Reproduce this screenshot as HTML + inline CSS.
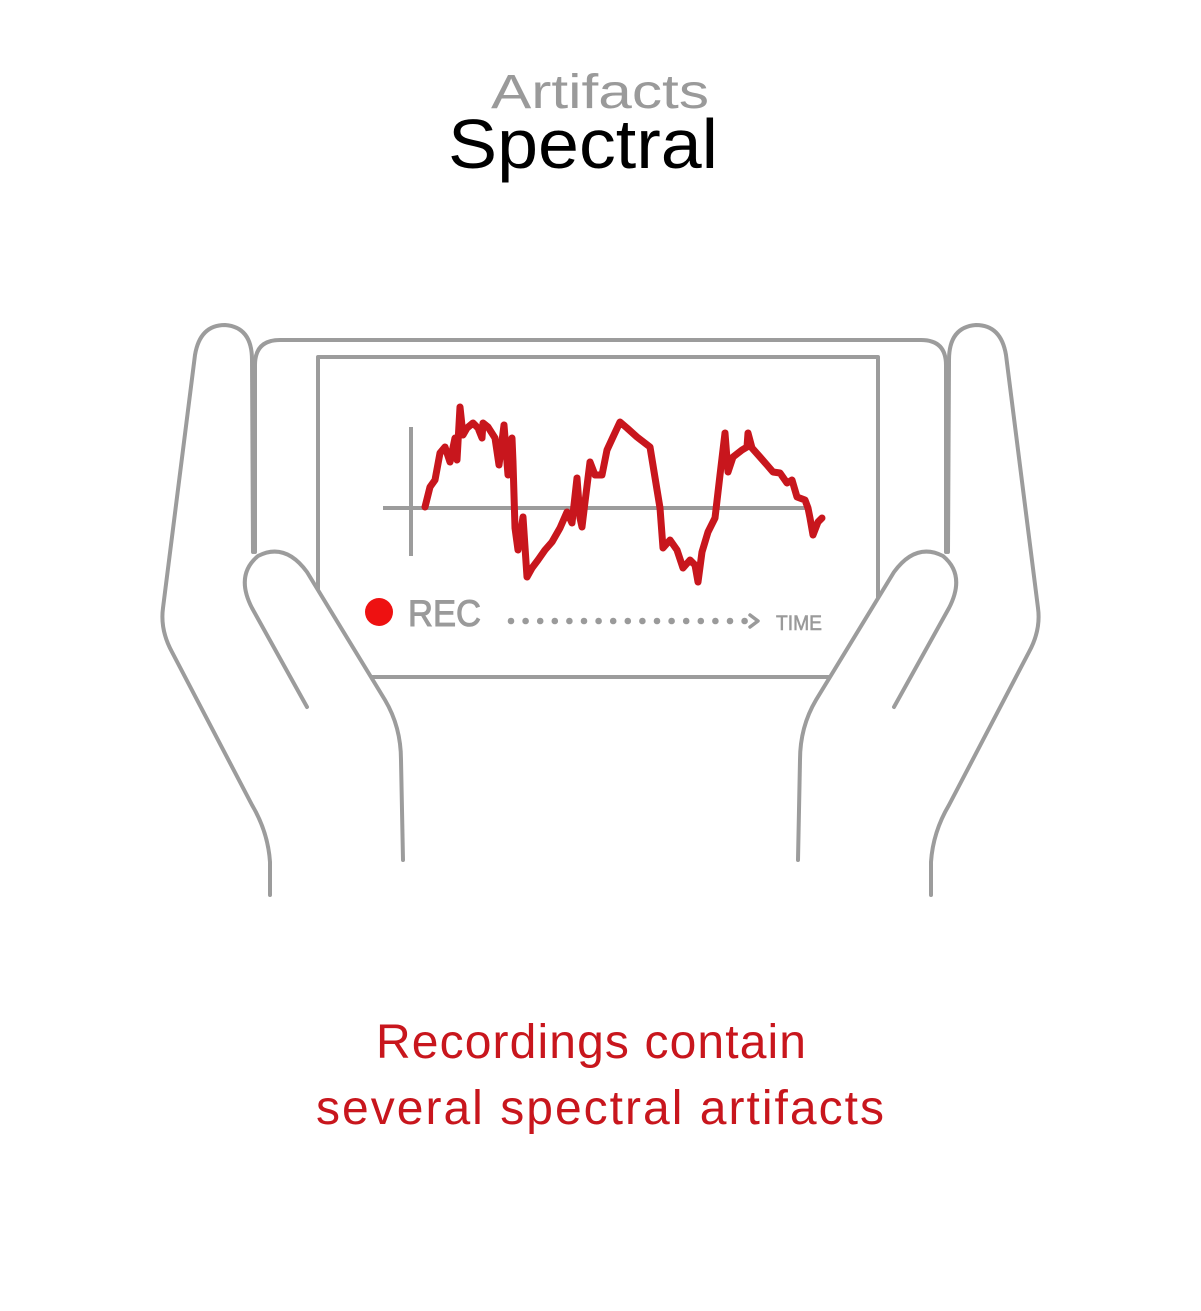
<!DOCTYPE html>
<html><head><meta charset="utf-8"><style>
html,body{margin:0;padding:0;background:#fff;}
svg{display:block;}
</style></head><body>
<svg width="1201" height="1311" viewBox="0 0 1201 1311" xmlns="http://www.w3.org/2000/svg">
<text x="600" y="108" text-anchor="middle" font-family="Liberation Sans, sans-serif" font-size="48" fill="#9a9a9a" textLength="218" lengthAdjust="spacingAndGlyphs">Artifacts</text>
<text x="583" y="168" text-anchor="middle" font-family="Liberation Sans, sans-serif" font-size="70" fill="#000" textLength="270" lengthAdjust="spacingAndGlyphs">Spectral</text>

<g fill="none" stroke="#9c9c9c" stroke-width="4" stroke-linecap="round" stroke-linejoin="round">
  <path d="M255,552 L255,365 Q255,340 280,340 L921,340 Q946,340 946,365 L946,552"/>
  <rect x="318" y="357" width="560" height="320"/>
</g>

<g id="chart">
  <line x1="383" y1="508" x2="805" y2="508" stroke="#9c9c9c" stroke-width="4"/>
  <line x1="411" y1="427" x2="411" y2="556" stroke="#9c9c9c" stroke-width="4"/>
</g>

<g id="hands" stroke="#9c9c9c" stroke-width="4" stroke-linecap="round" stroke-linejoin="round">
  <g>
    <path fill="none" d="M270,895 L270,862 Q268,832 252,805 L172,652 Q160,630 163,608 L195,355 Q200,325 225,325 Q252,327 252,360 L253,552"/>
    <path fill="#fff" d="M307,707 L252,608 Q235,575 258,556 Q285,542 307,572 L385,700 Q401,727 401,760 L403,860"/>
  </g>
  <g transform="translate(1201,0) scale(-1,1)">
    <path fill="none" d="M270,895 L270,862 Q268,832 252,805 L172,652 Q160,630 163,608 L195,355 Q200,325 225,325 Q252,327 252,360 L253,552"/>
    <path fill="#fff" d="M307,707 L252,608 Q235,575 258,556 Q285,542 307,572 L385,700 Q401,727 401,760 L403,860"/>
  </g>
</g>

<circle cx="379" cy="612" r="14" fill="#ee1111"/>
<text x="408" y="626" font-family="Liberation Sans, sans-serif" font-size="37" fill="#9a9a9a" stroke="#9a9a9a" stroke-width="1" textLength="73" lengthAdjust="spacingAndGlyphs">REC</text>
<g id="dots" fill="#9a9a9a"></g>
<path d="M750,615 L758,621 L750,627" fill="none" stroke="#9a9a9a" stroke-width="3.5" stroke-linecap="round" stroke-linejoin="round"/>
<text x="776" y="630" font-family="Liberation Sans, sans-serif" font-size="21" fill="#9a9a9a" stroke="#9a9a9a" stroke-width="0.6" textLength="46" lengthAdjust="spacingAndGlyphs">TIME</text>

<text x="591" y="1058" text-anchor="middle" font-family="Liberation Sans, sans-serif" font-size="48" fill="#c8161d" textLength="430">Recordings contain</text>
<text x="600" y="1124" text-anchor="middle" font-family="Liberation Sans, sans-serif" font-size="48" fill="#c8161d" textLength="568">several spectral artifacts</text>
</svg>
<script>
const times = [14,19,24,29,34,39,44,46,49,52,56,62,67,71,72,77,84,88,93,97,101,102,104,107,112,116,121,127,134,141,149,156,161,166,169,171,174,179,184,191,196,202,209,216,226,239,249,252,259,266,272,279,284,287,291,297,304,309,314,317,322,331,336,337,341,349,356,362,369,376,381,386,394,397,399,402,407,411];
const amps = [1,21,28,55,61,46,70,48,101,73,80,85,80,70,85,81,70,43,83,33,70,46,-20,-42,-9,-69,-60,-52,-42,-34,-20,-4,-15,30,-10,-19,6,46,33,33,58,71,86,80,71,61,0,-40,-32,-42,-60,-52,-57,-74,-44,-24,-10,33,75,36,51,58,61,75,60,51,43,36,35,25,28,11,8,0,-10,-27,-14,-10];
const xScale = t => 411 + t;
const yScale = a => 508 - a;
const ns = 'http://www.w3.org/2000/svg';
const chart = document.getElementById('chart');
let d = '';
for (let i = 0; i < times.length; i++) d += (i ? 'L' : 'M') + xScale(times[i]) + ',' + yScale(amps[i]);
const line = document.createElementNS(ns, 'path');
line.setAttribute('d', d);
line.setAttribute('fill', 'none');
line.setAttribute('stroke', '#c8161d');
line.setAttribute('stroke-width', '7');
line.setAttribute('stroke-linejoin', 'round');
line.setAttribute('stroke-linecap', 'round');


chart.appendChild(line);
const dots = document.getElementById('dots');
for (let i = 0; i < 17; i++) {
  const c = document.createElementNS(ns, 'circle');
  c.setAttribute('cx', 511 + i * 14.6);
  c.setAttribute('cy', 621);
  c.setAttribute('r', 3.3);
  
  
  dots.appendChild(c);
}
</script>
</body></html>
